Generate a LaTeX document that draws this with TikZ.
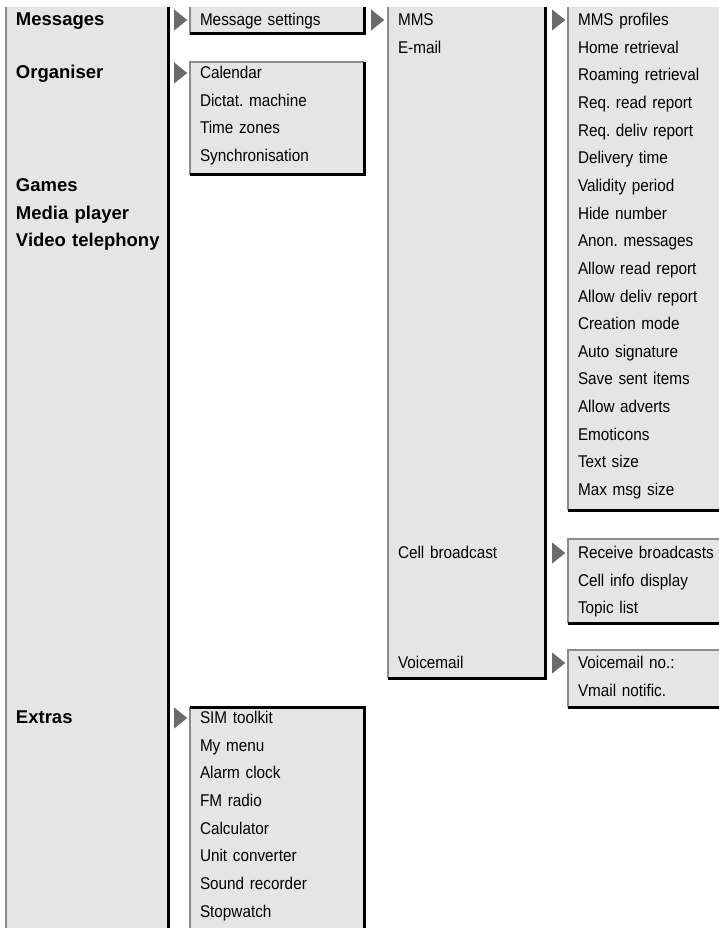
\documentclass[tikz,border=0pt]{standalone}
\usepackage{fontspec}
\setmainfont{Liberation Sans}
\newfontfamily\itemfont{Liberation Sans}[FakeStretch=0.9]
\usetikzlibrary{positioning,shapes.geometric}
\frenchspacing

\begin{document}
\begin{tikzpicture}[x=1pt, y=-1pt, node distance=27.65pt,
  panel/.style={fill=black!10},
  lit/.style={draw=black!45, line width=1.5pt},
  shade/.style={draw=black, line width=3pt},
  head/.style={inner sep=0pt, text width=150pt, align=left,
    text height=14pt, text depth=3pt, font=\fontsize{18.5}{20}\selectfont\bfseries},
  item/.style={inner sep=0pt, text width=140pt, align=left,
    text height=14pt, text depth=3pt, font=\itemfont\fontsize{17}{19}\selectfont},
  pointer/.style={isosceles triangle, isosceles triangle stretches, fill=black!58,
    inner sep=0pt, minimum width=21pt, minimum height=13pt, anchor=west}]
  \useasboundingbox (0,0) rectangle (719,928);
  \clip (0,0) rectangle (719,928);

  % main menu column
  \fill[panel] (6,7) rectangle (168,940);
  \draw[lit] (6,7) -- (6,940);
  \draw[shade] (168,7) -- (168,940);

  % second level
  \fill[panel] (190,7) rectangle (364,34);
  \draw[lit] (190,7) -- (190,34);
  \draw[shade] (190,34) -- (364,34) -- (364,7);
  \fill[panel] (190,62) rectangle (364,175);
  \draw[lit] (190,175) -- (190,62) -- (364,62);
  \draw[shade] (190,175) -- (364,175) -- (364,62);
  \fill[panel] (190,707) rectangle (364,940);
  \draw[lit] (190,707) -- (190,940);
  \draw[shade] (190,707) -- (364,707) -- (364,940);

  % third level
  \fill[panel] (388,7) rectangle (545,678);
  \draw[lit] (388,7) -- (388,678);
  \draw[shade] (388,678) -- (545,678) -- (545,7);

  % fourth level
  \fill[panel] (568,7) rectangle (730,510);
  \draw[lit] (568,7) -- (568,510);
  \draw[shade] (568,510) -- (730,510);
  \fill[panel] (568,539) rectangle (730,623);
  \draw[lit] (568,623) -- (568,539) -- (730,539);
  \draw[shade] (568,623) -- (730,623);
  \fill[panel] (568,650) rectangle (730,707);
  \draw[lit] (568,707) -- (568,650) -- (730,650);
  \draw[shade] (568,707) -- (730,707);

  % main menu entries
  \node[head] (msgs) at (91,20) {Messages};
  \node[head] (org) at (91,73) {Organiser};
  \node[head] (games) at (91,186) {Games};
  \node[head, below of=games] (media) {Media player};
  \node[head, below of=media] (video) {Video telephony};
  \node[head] (extras) at (91,718) {Extras};

  % submenus of Messages and Organiser
  \node[item] (msgset) at (270,20) {Message settings};
  \node[item] (cal) at (270,73) {Calendar};
  \node[item, below of=cal] (dictat) {Dictat. machine};
  \node[item, below of=dictat] (tzones) {Time zones};
  \node[item, below of=tzones] (sync) {Synchronisation};

  % submenu of Extras
  \node[item] (simtk) at (270,718) {SIM toolkit};
  \node[item, below of=simtk] (mymenu) {My menu};
  \node[item, below of=mymenu] (alarm) {Alarm clock};
  \node[item, below of=alarm] (fmradio) {FM radio};
  \node[item, below of=fmradio] (calc) {Calculator};
  \node[item, below of=calc] (unitconv) {Unit converter};
  \node[item, below of=unitconv] (soundrec) {Sound recorder};
  \node[item, below of=soundrec] (stopw) {Stopwatch};

  % message settings
  \node[item] (mms) at (468,20) {MMS};
  \node[item, below of=mms] (email) {E-mail};
  \node[item] (cellbc) at (468,553) {Cell broadcast};
  \node[item] (vmail) at (468,663) {Voicemail};

  % MMS settings
  \node[item] (mmsprof) at (648,20) {MMS profiles};
  \node[item, below of=mmsprof] (homeret) {Home retrieval};
  \node[item, below of=homeret] (roamret) {Roaming retrieval};
  \node[item, below of=roamret] (reqread) {Req. read report};
  \node[item, below of=reqread] (reqdeliv) {Req. deliv report};
  \node[item, below of=reqdeliv] (delivtime) {Delivery time};
  \node[item, below of=delivtime] (validity) {Validity period};
  \node[item, below of=validity] (hidenum) {Hide number};
  \node[item, below of=hidenum] (anon) {Anon. messages};
  \node[item, below of=anon] (allowread) {Allow read report};
  \node[item, below of=allowread] (allowdeliv) {Allow deliv report};
  \node[item, below of=allowdeliv] (creation) {Creation mode};
  \node[item, below of=creation] (autosig) {Auto signature};
  \node[item, below of=autosig] (savesent) {Save sent items};
  \node[item, below of=savesent] (adverts) {Allow adverts};
  \node[item, below of=adverts] (emoti) {Emoticons};
  \node[item, below of=emoti] (textsize) {Text size};
  \node[item, below of=textsize] (maxsize) {Max msg size};

  % cell broadcast and voicemail settings
  \node[item] (recvbc) at (648,553) {Receive broadcasts};
  \node[item, below of=recvbc] (cellinfo) {Cell info display};
  \node[item, below of=cellinfo] (topics) {Topic list};
  \node[item] (vmailno) at (648,663) {Voicemail no.:};
  \node[item, below of=vmailno] (vmailnot) {Vmail notific.};

  % submenu pointers
  \node[pointer] (ptmsgs) at (174,20) {};
  \node[pointer] (ptorg) at (174,73) {};
  \node[pointer] (ptextras) at (174,718) {};
  \node[pointer] (ptmsgset) at (371,20) {};
  \node[pointer] (ptmms) at (552,20) {};
  \node[pointer] (ptcellbc) at (552,553) {};
  \node[pointer] (ptvmail) at (552,663) {};
\end{tikzpicture}
\end{document}
